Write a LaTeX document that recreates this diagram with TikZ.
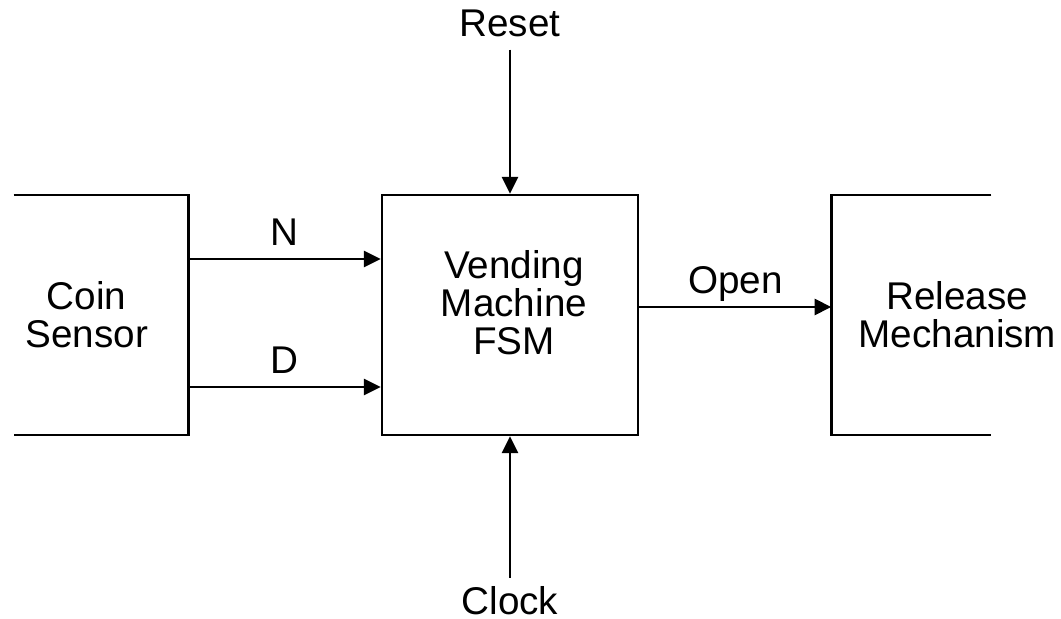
\documentclass[tikz,border=0pt]{standalone}
\usepackage{fontspec}
\setmainfont{Liberation Sans}
\usetikzlibrary{positioning,arrows.meta}

\begin{document}
\begin{tikzpicture}[
    >={Triangle[length=0.42cm, width=0.4cm]},
    line width=1.9pt,
    every node/.style={font=\fontsize{27.5}{27}\selectfont},
    fsmbox/.style={draw, minimum width=6.4cm, minimum height=6cm},
    portbox/.style={outer sep=0pt, minimum height=6cm, align=center},
    siglabel/.style={text depth=0pt, inner sep=0.3cm},
    sigarrow/.style={->},
]
\useasboundingbox (-12.75,-7.6) rectangle (13.775,7.875);

% ---- Centre: the FSM ----
\node[fsmbox] (fsm) {};
\node[align=center] (fsmname) at ([xshift=0.1cm, yshift=0.31cm]fsm.center) {Vending\\Machine\\FSM};

% ---- Sides: open boxes ----
\node[portbox, minimum width=5.1cm, left=4.8cm of fsm] (sensor) {Coin\\Sensor};
\node[portbox, minimum width=6.3cm, right=4.8cm of fsm] (release) {Release\\Mechanism};

\draw ([xshift=-4.375cm]sensor.north east) -- (sensor.north east) -- (sensor.south east) -- ([xshift=-4.375cm]sensor.south east);
\draw ([xshift=4cm]release.north west) -- (release.north west) -- (release.south west) -- ([xshift=4cm]release.south west);

% ---- Top and bottom: Reset, Clock ----
\node[siglabel, above=3.6cm of fsm] (reset) {Reset};
\node[siglabel, inner sep=0.17cm, below=3.54cm of fsm] (clock) {Clock};
\draw[sigarrow] (reset) -- (fsm);
\draw[sigarrow] (clock) -- (fsm);

% ---- Signals between the blocks ----
\draw[sigarrow] ([yshift=1.4cm]sensor.east) -- node[siglabel, above] (nickel) {N} ([yshift=1.4cm]fsm.west);
\draw[sigarrow] ([yshift=-1.8cm]sensor.east) -- node[siglabel, above] (dime) {D} ([yshift=-1.8cm]fsm.west);
\draw[sigarrow] ([yshift=0.2cm]fsm.east) -- node[siglabel, above] (open) {Open} ([yshift=0.2cm]release.west);

\end{tikzpicture}
\end{document}
